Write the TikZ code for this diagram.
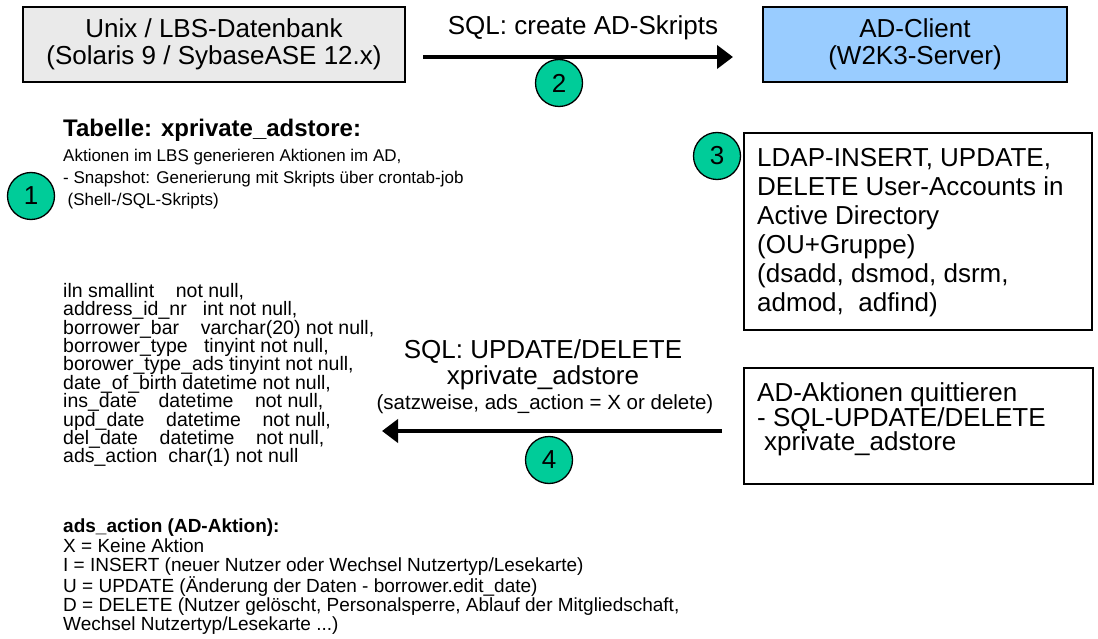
\documentclass[tikz,border=0pt]{standalone}
\usepackage{fontspec}
\setmainfont{Liberation Sans}
\usetikzlibrary{positioning,arrows.meta}
\definecolor{lbsgray}{HTML}{EAEAEA}
\definecolor{adblue}{HTML}{99CCFF}
\definecolor{numgreen}{HTML}{00CC99}

\begin{document}
\begin{tikzpicture}[x=1pt,y=-1pt,
  box/.style={draw=black,line width=1.3pt,inner sep=0pt},
  num/.style={circle,draw=black,line width=1.3pt,fill=numgreen,minimum size=47pt,inner sep=0pt,font=\fontsize{26}{26}\selectfont},
  flow/.style={line width=4pt,-{Triangle[length=16pt,width=23pt]}},
  bigtext/.style={inner sep=0pt,font=\fontsize{26}{26}\selectfont},
  ]
\useasboundingbox (0,0) rectangle (1098,639);
% top row
\node[box,fill=lbsgray,minimum width=382pt,minimum height=75pt,align=center,font=\fontsize{26}{27}\selectfont] (lbs_db) at (214,44.5) {Unix / LBS-Datenbank\\(Solaris 9 / SybaseASE 12.x)};
\node[box,fill=adblue,minimum width=304pt,minimum height=75pt,align=center,font=\fontsize{26}{27}\selectfont] (ad_client) at (915,44.5) {AD-Client\\(W2K3-Server)};
\coordinate (sql_start) at (423,57);
\coordinate (sql_end) at (733,57);
\draw[flow] (sql_start) -- (sql_end);
\node[bigtext] (sql_create) at (583,28) {SQL: create AD-Skripts};
\node[num] (num_two) at (559,83) {2};

% table description
\node[num] (num_one) at (31,196) {1};
\node[anchor=west,inner sep=0pt,font=\fontsize{24}{24}\selectfont\bfseries] (tab_title) at (63,130) {Tabelle: xprivate\_adstore:};
\node[anchor=north west,inner sep=0pt,align=left,font=\fontsize{17}{22}\selectfont] (tab_info) at (63,149) {Aktionen im LBS generieren Aktionen im AD,\\- Snapshot: Generierung mit Skripts über crontab-job\\\hspace*{4.5pt}(Shell-/SQL-Skripts)};
\node[anchor=north west,inner sep=0pt,align=left,font=\fontsize{19.5}{18.4}\selectfont] (tab_fields) at (63,283) {iln smallint~~~~not null,\\address\_id\_nr~~~int not null,\\borrower\_bar~~~~varchar(20) not null,\\borrower\_type~~~tinyint not null,\\borower\_type\_ads tinyint not null,\\date\_of\_birth datetime not null,\\ins\_date~~~~datetime~~~~not null,\\upd\_date~~~~datetime~~~~not null,\\del\_date~~~~datetime~~~~not null,\\ads\_action~~char(1) not null};
\node[anchor=north west,inner sep=0pt,align=left,font=\fontsize{19}{19.2}\selectfont] (ads_legend) at (63,519) {\textbf{ads\_action (AD-Aktion):}\\X = Keine Aktion\\I = INSERT (neuer Nutzer oder Wechsel Nutzertyp/Lesekarte)\\U = UPDATE (Änderung der Daten - borrower.edit\_date)\\D = DELETE (Nutzer gelöscht, Personalsperre, Ablauf der Mitgliedschaft,\\Wechsel Nutzertyp/Lesekarte ...)};

% AD side
\node[box,minimum width=348pt,minimum height=197pt] (ldap_box) at (918,231.5) {};
\node[anchor=north west,inner sep=0pt,align=left,font=\fontsize{26}{29}\selectfont] (ldap_text) at (757,147.7) {LDAP-INSERT, UPDATE,\\DELETE User-Accounts in\\Active Directory\\(OU+Gruppe)\\(dsadd, dsmod, dsrm,\\admod,~ adfind)};
\node[num] (num_three) at (717,156) {3};
\node[box,minimum width=349pt,minimum height=116pt] (ack_box) at (918.5,426) {};
\node[anchor=north west,inner sep=0pt,align=left,font=\fontsize{26}{24.5}\selectfont] (ack_text) at (757,382.5) {AD-Aktionen quittieren\\- SQL-UPDATE/DELETE\\\hspace*{7pt}xprivate\_adstore};

% back channel
\coordinate (upd_start) at (722,431);
\coordinate (upd_end) at (382,431);
\draw[flow] (upd_start) -- (upd_end);
\node[anchor=north,inner sep=0pt,align=center,font=\fontsize{26}{26}\selectfont] (sql_update) at (543,339) {SQL: UPDATE/DELETE\\xprivate\_adstore};
\node[inner sep=0pt,font=\fontsize{20.5}{20.5}\selectfont] (sql_note) at (545,404) {(satzweise, ads\_action = X or delete)};
\node[num] (num_four) at (549,460) {4};
\end{tikzpicture}
\end{document}
